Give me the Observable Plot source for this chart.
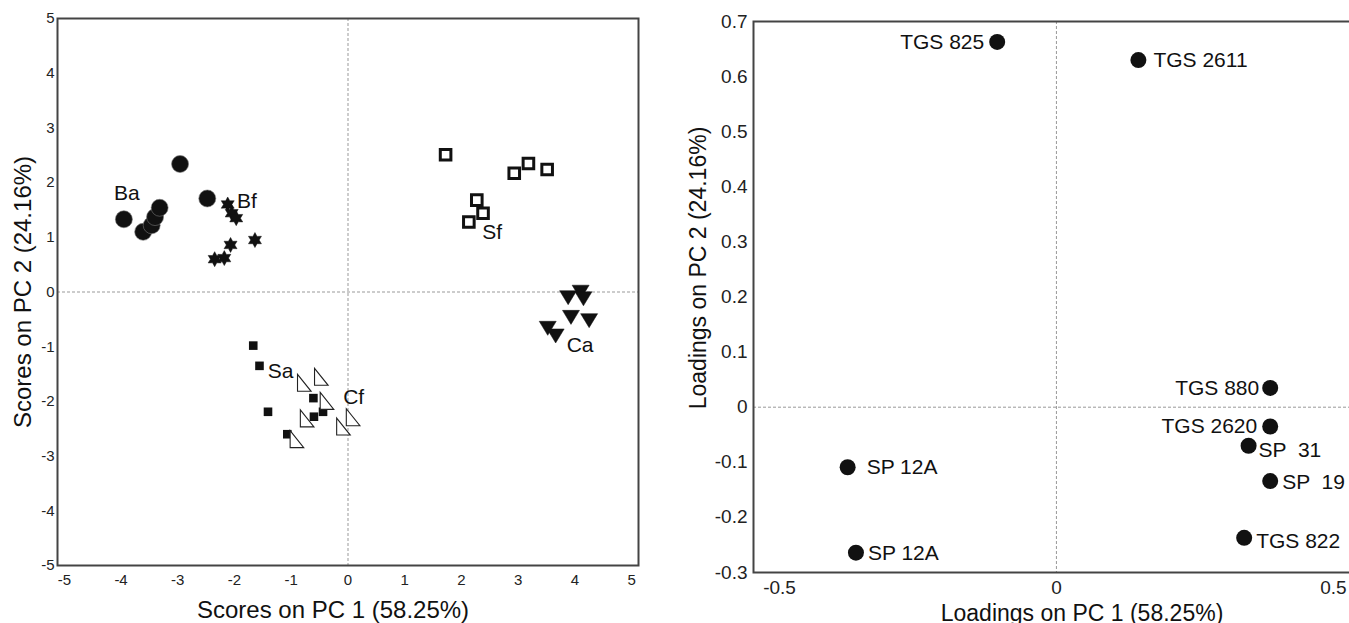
<!DOCTYPE html>
<html>
<head>
<meta charset="utf-8">
<script src="https://cdn.jsdelivr.net/npm/d3@7"></script>
<script src="https://cdn.jsdelivr.net/npm/@observablehq/plot@0.6"></script>
<style>
  html, body { margin: 0; padding: 0; background: #fff; overflow: hidden; }
  #wrap { display: flex; width: 1349px; height: 623px; overflow: hidden; }
  #wrap > svg, #wrap > figure { flex: none; margin: 0; }
</style>
</head>
<body>
<div id="wrap"></div>
<script>
// ---------------- DATA: scores plot (left) ----------------
const scoreTicks = [-5, -4, -3, -2, -1, 0, 1, 2, 3, 4, 5];
const groupNames = ["Ba", "Bf", "Sf", "Ca", "Sa", "Cf"];
const baX = [-3.95, -3.61, -3.46, -3.40, -3.32, -2.96, -2.48];
const baY = [1.33, 1.10, 1.22, 1.37, 1.54, 2.34, 1.71];
const bfX = [-2.12, -2.05, -1.97, -2.07, -1.64, -2.18, -2.35];
const bfY = [1.60, 1.44, 1.35, 0.86, 0.95, 0.62, 0.60];
const sfX = [1.72, 2.93, 3.18, 3.51, 2.27, 2.38, 2.13];
const sfY = [2.51, 2.17, 2.35, 2.24, 1.68, 1.44, 1.28];
const caX = [3.88, 4.10, 4.15, 3.93, 4.25, 3.52, 3.66];
const caY = [-0.10, 0.00, -0.12, -0.46, -0.52, -0.66, -0.80];
const saX = [-1.67, -1.56, -1.41, -0.61, -0.60, -0.44, -1.07];
const saY = [-0.98, -1.35, -2.19, -1.94, -2.28, -2.19, -2.60];
const cfX = [-0.77, -0.47, -0.37, -0.72, -0.08, 0.09, -0.90];
const cfY = [-1.66, -1.55, -1.99, -2.31, -2.46, -2.29, -2.69];
const groupLabelX = [-3.90, -1.78, 2.54, 4.09, -1.19, 0.10];
const groupLabelY = [1.80, 1.65, 1.10, -0.97, -1.44, -1.92];

// ---------------- DATA: loadings plot (right) ----------------
const loadingXTicks = [-0.5, 0, 0.5];
const loadingYTicks = [-0.3, -0.2, -0.1, 0, 0.1, 0.2, 0.3, 0.4, 0.5, 0.6, 0.7];
const sensorNames = ["TGS 825", "TGS 2611", "TGS 880", "TGS 2620", "SP  31", "SP  19", "TGS 822", "SP 12A", "SP 12A"];
const loadingX = [-0.107, 0.148, 0.386, 0.386, 0.347, 0.386, 0.339, -0.377, -0.362];
const loadingY = [0.663, 0.630, 0.035, -0.035, -0.070, -0.134, -0.237, -0.109, -0.264];

// ---------------- custom symbols ----------------
const sym = (fn) => ({ draw(ctx, size) { fn(ctx, Math.sqrt(size / Math.PI)); } });
const hexagram = sym((c, r) => {
  for (let i = 0; i < 12; i++) {
    const a = -Math.PI / 2 + i * Math.PI / 6;
    const rad = i % 2 ? r * 0.56 : r;
    const px = rad * Math.cos(a), py = rad * Math.sin(a);
    i ? c.lineTo(px, py) : c.moveTo(px, py);
  }
  c.closePath();
});
const squareSym = sym((c, r) => { c.rect(-r, -r, 2 * r, 2 * r); });
const downTri = sym((c, r) => {
  c.moveTo(-r, -0.8 * r); c.lineTo(r, -0.8 * r); c.lineTo(0, 0.85 * r); c.closePath();
});
const rightTri = sym((c, r) => {
  c.moveTo(-0.8 * r, -r); c.lineTo(-0.8 * r, r); c.lineTo(0.8 * r, r); c.closePath();
});

const pts = (xs, ys) => xs.map((x, i) => ({x, y: ys[i]}));
const groupLabels = groupNames.map((t, i) => ({t, x: groupLabelX[i], y: groupLabelY[i]}));
const FONT = "'Liberation Sans', Arial, Helvetica, sans-serif";

// ---------------- left plot ----------------
const left = Plot.plot({
  width: 660, height: 623,
  marginLeft: 57, marginRight: 22, marginTop: 18, marginBottom: 58,
  style: {fontFamily: FONT, fontSize: "15px", color: "#222", background: "#fff", overflow: "visible"},
  x: {domain: [-5.12, 5.12], ticks: scoreTicks, tickSize: 0, tickPadding: 9, tickFormat: d => String(d), label: null},
  y: {domain: [-5, 5], ticks: scoreTicks, tickSize: 0, tickPadding: 3, tickFormat: d => String(d), label: null},
  marks: [
    Plot.ruleX([0], {stroke: "#999", strokeDasharray: "3,2", strokeWidth: 1}),
    Plot.ruleY([0], {stroke: "#999", strokeDasharray: "3,2", strokeWidth: 1}),
    Plot.dot(pts(baX, baY), {x: "x", y: "y", r: 8.5, fill: "#111", stroke: "#777", strokeWidth: 0.6}),
    Plot.dot(pts(bfX, bfY), {x: "x", y: "y", r: 7.5, symbol: hexagram, fill: "#111", stroke: "#111", strokeWidth: 0.5}),
    Plot.dot(pts(sfX, sfY), {x: "x", y: "y", r: 5.3, symbol: squareSym, fill: "#fff", stroke: "#111", strokeWidth: 3}),
    Plot.dot(pts(caX, caY), {x: "x", y: "y", r: 8.5, symbol: downTri, fill: "#111", stroke: "#111", strokeWidth: 0.5}),
    Plot.dot(pts(saX, saY), {x: "x", y: "y", r: 4.3, symbol: squareSym, fill: "#111", stroke: "none"}),
    Plot.dot(pts(cfX, cfY), {x: "x", y: "y", r: 8.5, symbol: rightTri, fill: "#fff", stroke: "#222", strokeWidth: 1.1}),
    Plot.text(groupLabels, {x: "x", y: "y", text: "t", fontSize: 21, fill: "#111"}),
    Plot.frame({stroke: "#444", strokeWidth: 2}),
    Plot.text(["Scores on PC 1 (58.25%)"], {frameAnchor: "bottom", text: d => d, textAnchor: "middle", lineAnchor: "middle", dx: -15, dy: 45, fontSize: 24, fill: "#111"}),
    Plot.text(["Scores on PC 2 (24.16%)"], {frameAnchor: "left", text: d => d, textAnchor: "middle", lineAnchor: "middle", rotate: -90, dx: -34, dy: 0, fontSize: 24, fill: "#111"})
  ]
});
d3.select(left).selectAll('g[aria-label^="x-axis"] text, g[aria-label^="y-axis"] text').style("font-size", "15px");

// ---------------- right plot ----------------
const labelSpec = {
  "TGS 825": ["end", -13, 0], "TGS 2611": ["start", 15, 0], "TGS 880": ["end", -11, 0],
  "TGS 2620": ["end", -13, 0], "SP  31": ["start", 10, 4], "SP  19": ["start", 12, 1],
  "TGS 822": ["start", 12, 3]
};
const loadings = sensorNames.map((n, i) => ({n, x: loadingX[i], y: loadingY[i], i}));
const textMarks = loadings.map(d => {
  let spec = labelSpec[d.n];
  if (!spec) spec = d.y > -0.2 ? ["start", 19, 0] : ["start", 12, 1];
  return Plot.text([d], {x: "x", y: "y", text: "n", textAnchor: spec[0], dx: spec[1], dy: spec[2], fontSize: 21, fill: "#111"});
});

const right = Plot.plot({
  width: 692, height: 623,
  marginLeft: 93, marginRight: 2, marginTop: 21, marginBottom: 51,
  style: {fontFamily: FONT, fontSize: "19px", color: "#222", background: "#fff", overflow: "visible"},
  x: {domain: [-0.547, 0.531], ticks: loadingXTicks, tickSize: 0, tickPadding: 8, tickFormat: d => String(+d.toFixed(1)), label: null},
  y: {domain: [-0.3, 0.7], ticks: loadingYTicks, tickSize: 0, tickPadding: 6, tickFormat: d => String(+d.toFixed(1)), label: null},
  marks: [
    Plot.ruleX([0], {stroke: "#999", strokeDasharray: "3,2", strokeWidth: 1}),
    Plot.ruleY([0], {stroke: "#999", strokeDasharray: "3,2", strokeWidth: 1}),
    Plot.dot(loadings, {x: "x", y: "y", r: 8, fill: "#111", stroke: "none"}),
    ...textMarks,
    Plot.frame({stroke: "#444", strokeWidth: 2}),
    Plot.text(["Loadings on PC 1 (58.25%)"], {frameAnchor: "bottom", text: d => d, textAnchor: "middle", lineAnchor: "middle", dx: 30, dy: 41, fontSize: 23, fill: "#111"}),
    Plot.text(["Loadings on PC 2 (24.16%)"], {frameAnchor: "left", text: d => d, textAnchor: "middle", lineAnchor: "middle", rotate: -90, dx: -55, dy: -29, fontSize: 23, fill: "#111"})
  ]
});
d3.select(right).selectAll('g[aria-label^="x-axis"] text, g[aria-label^="y-axis"] text').style("font-size", "19px");

const wrap = document.getElementById("wrap");
wrap.appendChild(left);
wrap.appendChild(right);
</script>
</body>
</html>
